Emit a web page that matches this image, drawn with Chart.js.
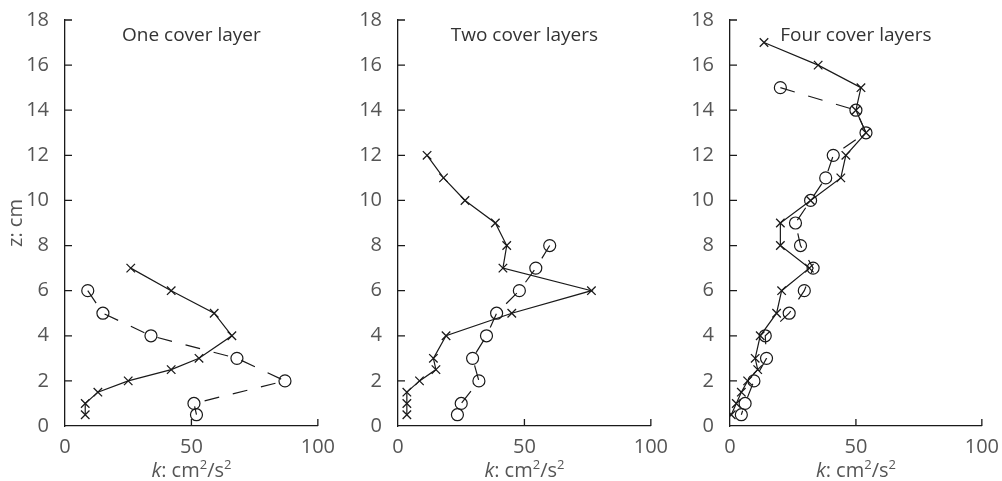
<!DOCTYPE html>
<html>
<head>
<meta charset="utf-8">
<script src="https://cdn.jsdelivr.net/npm/chart.js@4.4.0/dist/chart.umd.min.js"></script>
<style>
  body { margin: 0; background: #fff; }
  #wrap { position: relative; width: 1002px; height: 481px; }
  canvas { position: absolute; top: 0; }
</style>
</head>
<body>
<div id="wrap">
  <canvas id="c1" width="336" height="481" style="left:0px"></canvas>
  <canvas id="c2" width="335" height="481" style="left:334px"></canvas>
  <canvas id="c3" width="332" height="481" style="left:668px"></canvas>
</div>
<script>
// panel titles
const panelTitles = ["One cover layer", "Two cover layers", "Four cover layers"];

// axis ticks
const zTicks = [0, 2, 4, 6, 8, 10, 12, 14, 16, 18];
const kTicks = [0, 50, 100];

// One cover layer
const zCross1 = [7, 6, 5, 4, 3, 2.5, 2, 1.5, 1, 0.5];
const kCross1 = [26, 42, 59, 66, 53, 42, 25, 13, 8, 8];
const zCircle1 = [6, 5, 4, 3, 2, 1, 0.5];
const kCircle1 = [9, 15, 34, 68, 87, 51, 52];

// Two cover layers
const zCross2 = [12, 11, 10, 9, 8, 7, 6, 5, 4, 3, 2.5, 2, 1.5, 1, 0.5];
const kCross2 = [11.5, 18, 26.5, 38.5, 43, 41.5, 76.5, 45, 19, 14, 15, 8.5, 3.5, 3.5, 3.5];
const zCircle2 = [8, 7, 6, 5, 4, 3, 2, 1, 0.5];
const kCircle2 = [60, 54.5, 48, 39, 35, 29.5, 32, 25, 23.5];

// Four cover layers
const zCross3 = [17, 16, 15, 14, 13, 12, 11, 10, 9, 8, 7, 6, 5, 4, 3, 2.5, 2, 1.5, 1, 0.5];
const kCross3 = [13.5, 35, 52, 50, 54, 46, 44, 32, 20, 20, 31.5, 20.5, 18.5, 12, 10, 11, 7, 4.5, 2.5, 0.5];
const zCircle3 = [15, 14, 13, 12, 11, 10, 9, 8, 7, 6, 5, 4, 3, 2, 1, 0.5];
const kCircle3 = [20, 50, 54, 41, 38, 32, 26, 28, 33, 29.5, 23.5, 14, 14.5, 9.5, 6, 4.5];

const panels = [
  { id: "c1", title: panelTitles[0], kx: kCross1, zx: zCross1, kc: kCircle1, zc: zCircle1, yw: 65, showYTitle: true },
  { id: "c2", title: panelTitles[1], kx: kCross2, zx: zCross2, kc: kCircle2, zc: zCircle2, yw: 64, showYTitle: false },
  { id: "c3", title: panelTitles[2], kx: kCross3, zx: zCross3, kc: kCircle3, zc: zCircle3, yw: 62, showYTitle: false }
];

const ink = "#1a1a1a";
const labelColor = "#555";
const fontFam = "'Open Sans'";

// inward ticks, panel title, x axis title with italic k
const decor = {
  id: "decor",
  afterDraw(chart, args, opts) {
    const ctx = chart.ctx;
    const xs = chart.scales.x, ys = chart.scales.y;
    ctx.save();
    ctx.strokeStyle = ink;
    ctx.lineWidth = 1.3;
    ctx.beginPath();
    zTicks.forEach(v => {
      if (v === 0) return;
      const py = ys.getPixelForValue(v);
      ctx.moveTo(xs.left, py);
      ctx.lineTo(xs.left + 7, py);
    });
    kTicks.forEach(v => {
      if (v === 0) return;
      const px = xs.getPixelForValue(v);
      ctx.moveTo(px, ys.bottom);
      ctx.lineTo(px, ys.bottom - 7);
    });
    ctx.stroke();

    // panel title
    ctx.fillStyle = "#333";
    ctx.font = "19px " + fontFam;
    ctx.textAlign = "center";
    ctx.textBaseline = "alphabetic";
    ctx.fillText(opts.title, (xs.left + xs.right) / 2, 41);

    // x axis title: k: cm2/s2
    const parts = [
      { t: "k", f: "italic 20px " + fontFam, dy: 0 },
      { t: ": cm", f: "20px " + fontFam, dy: 0 },
      { t: "2", f: "13px " + fontFam, dy: -8 },
      { t: "/s", f: "20px " + fontFam, dy: 0 },
      { t: "2", f: "13px " + fontFam, dy: -8 }
    ];
    let total = 0;
    parts.forEach(p => { ctx.font = p.f; p.w = ctx.measureText(p.t).width; total += p.w; });
    let x0 = (xs.left + xs.right) / 2 - total / 2;
    ctx.fillStyle = labelColor;
    ctx.textAlign = "left";
    parts.forEach(p => { ctx.font = p.f; ctx.fillText(p.t, x0, 477 + p.dy); x0 += p.w; });
    ctx.restore();
  }
};

panels.forEach(p => {
  const crosses = p.kx.map((k, i) => ({ x: k, y: p.zx[i] }));
  const circles = p.kc.map((k, i) => ({ x: k, y: p.zc[i] }));
  new Chart(document.getElementById(p.id), {
    type: "scatter",
    data: {
      datasets: [
        {
          data: circles,
          showLine: true,
          borderColor: ink,
          borderWidth: 1.2,
          borderDash: [15, 14],
          pointStyle: "circle",
          pointRadius: 6,
          pointBorderWidth: 1.2,
          pointBorderColor: ink,
          pointBackgroundColor: "rgba(0,0,0,0)"
        },
        {
          data: crosses,
          showLine: true,
          borderColor: ink,
          borderWidth: 1.2,
          pointStyle: "crossRot",
          pointRadius: 6,
          pointBorderWidth: 1.3,
          pointBorderColor: ink
        }
      ]
    },
    options: {
      responsive: false,
      animation: false,
      layout: { padding: { top: 20, right: 0, left: 0, bottom: 0 } },
      plugins: {
        legend: { display: false },
        tooltip: { enabled: false },
        decor: { title: p.title }
      },
      scales: {
        x: {
          type: "linear",
          min: 0, max: 100,
          afterBuildTicks: s => { s.ticks = kTicks.map(v => ({ value: v })); },
          afterFit: s => { s.height = 55; },
          grid: { display: false },
          border: { display: true, color: ink, width: 1.3 },
          ticks: { color: labelColor, font: { family: fontFam, size: 20 }, padding: 1 }
        },
        y: {
          type: "linear",
          min: 0, max: 18,
          afterBuildTicks: s => { s.ticks = zTicks.map(v => ({ value: v })); },
          afterFit: s => { s.width = p.yw; },
          grid: { display: false },
          border: { display: true, color: ink, width: 1.3 },
          ticks: { color: labelColor, font: { family: fontFam, size: 20 }, padding: 8 },
          title: {
            display: p.showYTitle,
            text: "z: cm",
            color: labelColor,
            font: { family: fontFam, size: 20 },
            padding: 4
          }
        }
      }
    },
    plugins: [decor]
  });
});
</script>
</body>
</html>
